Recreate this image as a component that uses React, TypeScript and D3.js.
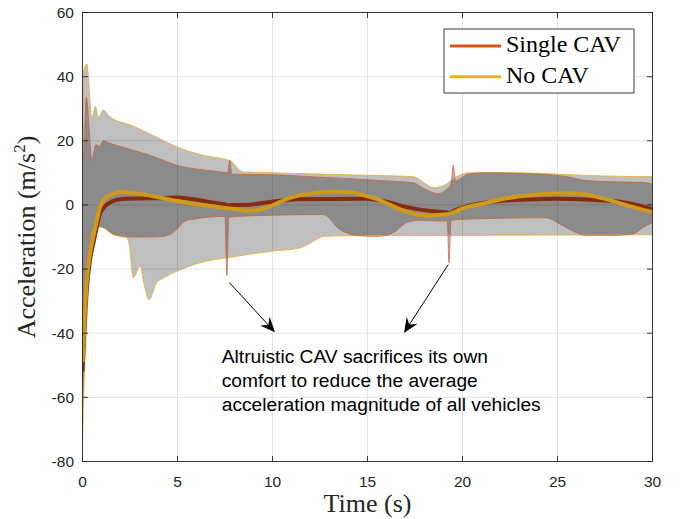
import * as d3 from 'd3';

const timeTicks = [0, 5, 10, 15, 20, 25, 30];
const accelTicks = [-80, -60, -40, -20, 0, 20, 40, 60];

// [time (s), acceleration (m/s^2)]
const singleMean: [number, number][] = [
  [0, -52], [0.1, -40], [0.22, -27], [0.4, -17], [0.57, -12], [0.75, -7], [0.9, -3], [1.1, -1],
  [1.6, 1.2], [2, 1.8], [3, 2], [4, 2.1], [5, 2.3], [6, 1.6], [7, 0.6], [7.55, 0.1], [7.65, -0.8],
  [7.75, 0], [8.5, 0], [9.97, 1], [11.3, 1.8], [14.96, 1.9], [16, 1], [17, -0.6], [18.45, -2],
  [19.2, -2.3], [19.3, -2.9], [19.45, -2.2], [20.04, -0.8], [21.97, 1.2], [24, 1.8], [25, 1.9],
  [26.5, 1.7], [28.3, 1], [29.2, 0], [30, -1.4],
];

const noCavMean: [number, number][] = [
  [0, -49], [0.1, -37], [0.22, -24], [0.4, -15], [0.57, -9.8], [0.75, -5], [0.9, -1], [1.1, 1.5],
  [1.5, 3.2], [2, 4], [2.5, 3.8], [3, 3.5], [4, 2.4], [5, 1.2], [6, 0.2], [7, -0.6], [8, -1.3],
  [8.64, -1.8], [9.2, -1.6], [9.97, -0.2], [10.92, 2.2], [12, 3.6], [13.03, 4.1], [13.97, 4],
  [14.8, 3], [15.48, 1.9], [16.2, 0], [16.97, -2], [17.97, -3.3], [18.7, -3.1], [19.3, -2.8],
  [20, -1.1], [21, 0.3], [22, 1.7], [23.5, 3], [25, 3.6], [26, 3.6], [27, 2.6], [27.9, 1.2],
  [29, -0.7], [30, -2.3],
];

const singleUpper: [number, number][] = [
  [0, 36], [0.05, 14], [0.2, 33.5], [0.5, 14], [0.7, 18.8], [0.9, 18.3], [1.1, 20], [1.4, 19.3],
  [2, 18.2], [3, 16.5], [4, 14.5], [5, 12.3], [6, 11.2], [7, 10.5], [7.65, 10.1], [7.75, 14],
  [7.85, 9.6], [8.5, 9.5], [10, 9.4], [12, 8.8], [14, 8.2], [16, 7.5], [17.4, 6.9], [18, 5],
  [18.7, 3.5], [19.1, 4.5], [19.4, 6.5], [19.52, 12.4], [19.62, 7.5], [20.3, 9.6], [21, 10],
  [23, 9.8], [24.5, 9.5], [25.5, 8.8], [26.5, 7.6], [28, 7.2], [29.5, 7], [30, 6.5],
];

const singleLower: [number, number][] = [
  [0, -62], [0.1, -45], [0.2, -28], [0.35, -14], [0.5, -8], [0.8, -6.5], [1.1, -7], [1.6, -9],
  [2.3, -10], [3.5, -10], [4.3, -9.8], [4.9, -8], [5.4, -5], [6, -4.3], [7.5, -3.6], [7.6, -22],
  [7.7, -3.8], [10, -3.2], [12.66, -3], [13.55, -7.7], [14.4, -9.5], [15.5, -9.8], [16.35, -8.7],
  [17.06, -5.5], [17.76, -4.8], [18.7, -5], [19.2, -5], [19.29, -18], [19.4, -4.8], [20.04, -4.5],
  [24.4, -4], [24.96, -5.4], [25.66, -7.7], [26.5, -9.5], [27.9, -9.5], [29, -9], [29.5, -7],
  [30, -5.5],
];

const noCavUpper: [number, number][] = [
  [0, 40], [0.22, 44], [0.5, 27], [0.67, 30.7], [0.84, 27.4], [1.1, 29.6], [1.4, 27.7],
  [2.7, 24.5], [4, 20.8], [5.05, 17.9], [6.2, 15.7], [7.5, 14.2], [7.76, 13.8], [8.45, 10.3],
  [10, 10], [12, 9.7], [14, 9.4], [16, 9.1], [17.4, 8.8], [18.5, 5.4], [19, 6], [19.6, 8.5],
  [20.3, 10], [22, 10.1], [25, 9.6], [27, 9.1], [30, 8.8],
];

const noCavLower: [number, number][] = [
  [0, -74], [0.1, -52], [0.2, -33], [0.35, -16], [0.5, -9], [0.8, -6.8], [1.1, -7.1], [1.6, -9.2],
  [2.3, -10], [2.45, -12], [2.67, -22.7], [3.03, -19.1], [3.25, -25], [3.5, -29.5], [3.9, -24.3],
  [4.2, -23], [4.43, -22.2], [4.96, -20.7], [6.2, -18], [7.7, -16.4], [10, -14.4], [11.45, -13.4],
  [12.1, -11.5], [12.7, -9.8], [14, -9.6], [17, -9.5], [20, -9.5], [25, -9.4], [30, -9.3],
];

const seriesNames = ['Single CAV', 'No CAV'];
const legendColors = ['#D95319', '#EDB120'];

const annotationLines = [
  'Altruistic CAV sacrifices its own',
  'comfort to reduce the average',
  'acceleration magnitude of all vehicles',
];
// arrows in data units: [from, to]
const arrows: [[number, number], [number, number]][] = [
  [[7.73, -24.2], [10.13, -39.7]],
  [[19.25, -18.6], [16.92, -39.9]],
];
const annotationAnchor: [number, number] = [7.33, -49.2];

const W = 684;
const H = 519;
const left = 82.5, right = 652.5, top = 12.5, bottom = 461.5;

export default function App() {
  const x = d3.scaleLinear().domain([0, 30]).range([left, right]);
  const y = d3.scaleLinear().domain([-80, 60]).range([bottom, top]);

  const line = d3.line<[number, number]>()
    .x(d => x(d[0]))
    .y(d => y(d[1]))
    .curve(d3.curveMonotoneX);

  const band = (upper: [number, number][], lower: [number, number][]) => {
    const a = line(upper) as string;
    const b = line(lower.slice().reverse()) as string;
    return a + 'L' + b.slice(1) + 'Z';
  };

  const axisColor = '#262626';
  const gridColor = '#dfdfdf';
  const sans = '"Liberation Sans", Arial, Helvetica, sans-serif';
  const serif = '"Liberation Serif", "Times New Roman", serif';

  const arrowHead = (fx: number, fy: number, tx: number, ty: number) => {
    const dx = tx - fx, dy = ty - fy;
    const len = Math.hypot(dx, dy);
    const ux = dx / len, uy = dy / len;
    const px = -uy, py = ux;
    const L = 15, Wd = 6.5, back = 0.35;
    const bx = tx - ux * L, by = ty - uy * L;
    const nx = tx - ux * L * (1 - back), ny = ty - uy * L * (1 - back);
    return `M${tx},${ty}L${bx + px * Wd},${by + py * Wd}L${nx},${ny}L${bx - px * Wd},${by - py * Wd}Z`;
  };

  return (
    <svg width={W} height={H} style={{ position: 'absolute', left: 0, top: 0, background: '#fff' }}>
      <defs>
        <clipPath id="plot">
          <rect x={left} y={top} width={right - left} height={bottom - top} />
        </clipPath>
      </defs>
      <rect x={0} y={0} width={W} height={H} fill="#fff" />

      {/* grid */}
      {timeTicks.map(t => (
        <line key={'gx' + t} x1={x(t)} x2={x(t)} y1={top} y2={bottom} stroke={gridColor} strokeWidth={0.9} />
      ))}
      {accelTicks.map(v => (
        <line key={'gy' + v} x1={left} x2={right} y1={y(v)} y2={y(v)} stroke={gridColor} strokeWidth={0.9} />
      ))}

      <g clipPath="url(#plot)">
        <path d={band(noCavUpper, noCavLower)} fill="#000" fillOpacity={0.25} />
        <path d={band(singleUpper, singleLower)} fill="#000" fillOpacity={0.27} />
        <path d={line(noCavUpper) as string} fill="none" stroke="#e2b43e" strokeWidth={0.9} />
        <path d={line(noCavLower) as string} fill="none" stroke="#e2b43e" strokeWidth={0.9} />
        <path d={line(singleUpper) as string} fill="none" stroke="#c4623e" strokeWidth={0.9} strokeOpacity={0.85} />
        <path d={line(singleLower) as string} fill="none" stroke="#c4623e" strokeWidth={0.9} strokeOpacity={0.85} />
        <path d={line(singleMean) as string} fill="none" stroke="#862c0c" strokeWidth={4} strokeLinejoin="round" />
        <path d={line(noCavMean) as string} fill="none" stroke="#cf9a1c" strokeWidth={4} strokeLinejoin="round" />
      </g>

      {/* axes box and ticks */}
      <rect x={left} y={top} width={right - left} height={bottom - top} fill="none" stroke={axisColor} strokeWidth={0.9} />
      {timeTicks.map(t => (
        <g key={'tx' + t}>
          <line x1={x(t)} x2={x(t)} y1={bottom} y2={bottom - 5.5} stroke={axisColor} strokeWidth={0.9} />
          <line x1={x(t)} x2={x(t)} y1={top} y2={top + 5.5} stroke={axisColor} strokeWidth={0.9} />
          <text x={x(t)} y={487} textAnchor="middle" fontFamily={sans} fontSize={15.5} fill={axisColor}>{t}</text>
        </g>
      ))}
      {accelTicks.map(v => (
        <g key={'ty' + v}>
          <line x1={left} x2={left + 5.5} y1={y(v)} y2={y(v)} stroke={axisColor} strokeWidth={0.9} />
          <line x1={right} x2={right - 5.5} y1={y(v)} y2={y(v)} stroke={axisColor} strokeWidth={0.9} />
          <text x={74} y={y(v)} dy="0.35em" textAnchor="end" fontFamily={sans} fontSize={15.5} fill={axisColor}>{v}</text>
        </g>
      ))}

      {/* axis labels */}
      <text x={(left + right) / 2} y={512} textAnchor="middle" fontFamily={serif} fontSize={26} fill={axisColor}>Time (s)</text>
      <text transform={`translate(35,${(top + bottom) / 2}) rotate(-90)`} textAnchor="middle" fontFamily={serif} fontSize={26} fill={axisColor}>
        Acceleration (m/s<tspan fontSize={17} dy={-10}>2</tspan><tspan dy={10}>)</tspan>
      </text>

      {/* annotation */}
      {arrows.map(([f, t], i) => {
        const fx = x(f[0]), fy = y(f[1]), tx = x(t[0]), ty = y(t[1]);
        const dx = tx - fx, dy = ty - fy, len = Math.hypot(dx, dy);
        return (
          <g key={'ar' + i}>
            <line x1={fx} y1={fy} x2={tx - (dx / len) * 8} y2={ty - (dy / len) * 8} stroke="#000" strokeWidth={1} />
            <path d={arrowHead(fx, fy, tx, ty)} fill="#000" />
          </g>
        );
      })}
      <text fontFamily={sans} fontSize={19.2} fill="#000">
        {annotationLines.map((s, i) => (
          <tspan key={i} x={x(annotationAnchor[0])} y={y(annotationAnchor[1]) + i * 24.2}>{s}</tspan>
        ))}
      </text>

      {/* legend */}
      <rect x={444} y={29} width={190} height={64} fill="#fff" stroke={axisColor} strokeWidth={0.9} />
      {seriesNames.map((name, i) => (
        <g key={name}>
          <line x1={450} x2={501} y1={46 + i * 30.7} y2={46 + i * 30.7} stroke={legendColors[i]} strokeWidth={3} />
          <text x={506} y={52 + i * 30.7} fontFamily={serif} fontSize={24} fill="#000">{name}</text>
        </g>
      ))}
    </svg>
  );
}
